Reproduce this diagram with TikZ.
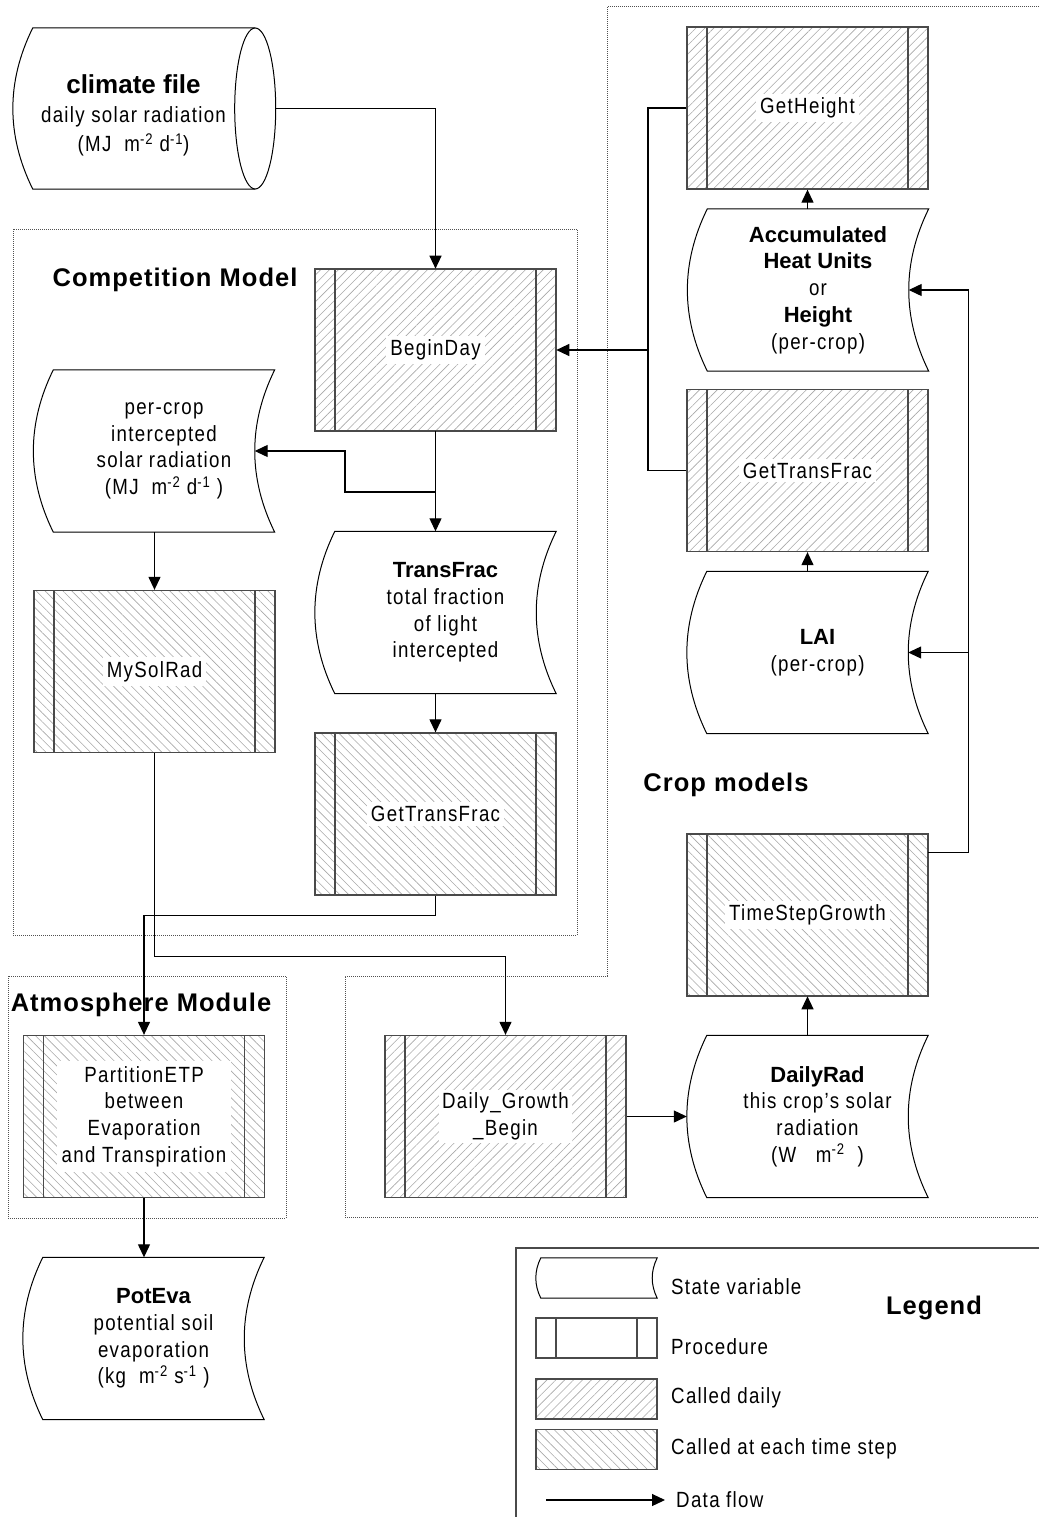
\documentclass[tikz,border=0pt]{standalone}
\usepackage{fontspec}
\setmainfont{Liberation Sans}[FakeStretch=0.85,LetterSpace=6]
\newfontfamily\boldfam{Liberation Sans}
\newfontfamily\headfam{Liberation Sans}[LetterSpace=4]
\newcommand{\bt}[1]{{\boldfam\bfseries #1}}
\usetikzlibrary{patterns.meta,calc,arrows.meta}
\definecolor{boxc}{HTML}{4A4A4A}
\definecolor{hatchc}{HTML}{A8A8A8}
\definecolor{dotc}{HTML}{505050}
\newcommand{\stateoutline}[2]{%
 \draw[stateline] (#1.north west) -- (#1.north east)
  .. controls ($(#1.north east)!0.333!(#1.south east)+(-1.33*#2,0)$) and ($(#1.north east)!0.667!(#1.south east)+(-1.33*#2,0)$) .. (#1.south east)
  -- (#1.south west)
  .. controls ($(#1.north west)!0.667!(#1.south west)+(-1.33*#2,0)$) and ($(#1.north west)!0.333!(#1.south west)+(-1.33*#2,0)$) .. (#1.north west) -- cycle;}
\begin{document}
\begin{tikzpicture}[x=1pt,y=-1pt,
 every node/.style={font=\fontsize{22}{26.7}\selectfont, align=center, inner sep=0pt},
 proc/.style={rectangle, draw=boxc, line width=1.3pt, minimum width=241pt, minimum height=162pt,
   path picture={\draw[boxc,line width=1.3pt]
     ([xshift=20pt]path picture bounding box.north west) -- ([xshift=20pt]path picture bounding box.south west)
     ([xshift=-20pt]path picture bounding box.north east) -- ([xshift=-20pt]path picture bounding box.south east);}},
 daily/.style={pattern={Lines[angle=45,distance=6.3pt,line width=0.6pt]}, pattern color=hatchc},
 each/.style={pattern={Lines[angle=-45,distance=6.3pt,line width=0.6pt]}, pattern color=hatchc},
 ptxt/.style={fill=white, inner sep=4pt},
 statenode/.style={rectangle, minimum width=221pt, minimum height=162pt},
 stateline/.style={draw=black, line width=1pt},
 conn/.style={draw=black, line width=1.2pt},
 arr/.style={conn, -{Triangle[length=13pt,width=12pt]}},
 grp/.style={draw=dotc, line width=1pt, dash pattern=on 1pt off 1pt},
 head/.style={font=\fontsize{25.5}{30}\headfam\bfseries}
]
\useasboundingbox (0,0) rectangle (1039,1517);

% groups
\draw[grp] (13,229) rectangle (577,935);
\draw[grp] (8,976) rectangle (286,1218);
\draw[grp] (1039,7) -- (607,7) -- (607,976) -- (345,976) -- (345,1217) -- (1039,1217);

% procedures
\node[proc,daily,label={[ptxt]center:BeginDay}] (BeginDay) at (435.5,350) {};
\node[proc,daily,label={[ptxt]center:GetHeight}] (GetHeight) at (807.5,108) {};
\node[proc,daily,label={[ptxt]center:GetTransFrac}] (GetTFR) at (807.5,470.5) {};
\node[proc,each,label={[ptxt]center:TimeStepGrowth}] (TSG) at (807.5,915) {};
\node[proc,each,label={[ptxt]center:MySolRad}] (MySolRad) at (154.5,671.5) {};
\node[proc,each,label={[ptxt]center:GetTransFrac}] (GetTFL) at (435.5,814) {};
\node[proc,daily,label={[ptxt,inner sep=3pt]center:Daily\_Growth\\\_Begin}] (DGB) at (505.5,1116.5) {};
\node[proc,each,label={[ptxt,inner sep=5pt]center:PartitionETP\\between\\Evaporation\\and Transpiration}] (PETP) at (144,1116.5) {};

% state variables
\node[statenode,minimum width=201pt,minimum height=161pt,
  label={[yshift=-7pt]center:{\fontsize{26}{32}\boldfam\bfseries climate file}\\[2pt]daily solar radiation\\[3pt](MJ~ m\textsuperscript{-2} d\textsuperscript{-1})}] (climate) at (133.5,108.5) {};
\draw[stateline] ($(climate.north east)+(21,0)$) -- (climate.north west)
  .. controls ($(climate.north west)!0.333!(climate.south west)+(-26.6,0)$) and ($(climate.north west)!0.667!(climate.south west)+(-26.6,0)$) .. (climate.south west)
  -- ($(climate.south east)+(21,0)$);
\coordinate (cfE) at ($(climate.east)+(21,0)$);
\draw[stateline] (cfE) ellipse [x radius=20.5, y radius=80.5];
\node[statenode] (percrop) at (164,451) {per-crop\\intercepted\\solar radiation\\(MJ~ m\textsuperscript{-2} d\textsuperscript{-1}~)};
\stateoutline{percrop}{20}
\node[statenode] (TransFrac) at (445.5,612.5) {\bt{TransFrac}\\total fraction\\of light\\intercepted};
\stateoutline{TransFrac}{20}
\node[statenode] (Accum) at (818,290) {\bt{Accumulated}\\\bt{Heat Units}\\or\\\bt{Height}\\(per-crop)};
\stateoutline{Accum}{20}
\node[statenode] (LAI) at (817.5,652.5) {\bt{LAI}\\(per-crop)};
\stateoutline{LAI}{20}
\node[statenode] (DailyRad) at (817.5,1116.5) {\bt{DailyRad}\\this crop's solar\\radiation\\(W~~ m\textsuperscript{-2}~~)};
\stateoutline{DailyRad}{20}
\node[statenode] (PotEva) at (153.5,1338.5) {\bt{PotEva}\\potential soil\\evaporation\\(kg~ m\textsuperscript{-2} s\textsuperscript{-1}~)};
\stateoutline{PotEva}{20}

% headings
\node[head] (hComp) at (175,280) {Competition Model};
\node[head] (hCrop) at (726,785) {Crop models};
\node[head] (hAtm) at (141,1005) {Atmosphere Module};

% connectors
\coordinate (cfTip) at ($(cfE)+(20.5,0)$);
\coordinate (percropIn) at ($(percrop.east)+(-20,0)$);
\coordinate (AccumIn) at ($(Accum.east)+(-20,0)$);
\coordinate (LAIIn) at ($(LAI.east)+(-20,0)$);
\coordinate (DailyRadIn) at ($(DailyRad.west)+(-20,0)$);
\coordinate (bus) at (648,350);
\coordinate (br1) at (435.5,492);
\coordinate (tsgOut) at ($(TSG.north east)+(0,19)$);
\coordinate (rbus) at ($(tsgOut)+(40,0)$);

\draw[arr] (cfTip) -| (BeginDay.north);
\draw[conn] (GetHeight.west) -| (bus) |- (GetTFR.west);
\draw[arr] (bus) -- (BeginDay.east);
\draw[arr] (BeginDay.south) -- (BeginDay.south |- TransFrac.north);
\draw[arr] (br1) -- ++(-90.5,0) |- (percropIn);
\draw[arr] (MySolRad.north |- percrop.south) -- (MySolRad.north);
\draw[arr] (GetTFL.north |- TransFrac.south) -- (GetTFL.north);
\draw[arr] (GetTFL.south) -- ++(0,20) -| (PETP.north);
\draw[arr] (MySolRad.south) -- ++(0,203) -| (DGB.north);
\draw[arr] (PETP.south) -- (PETP.south |- PotEva.north);
\draw[arr] (DGB.east) -- (DailyRadIn);
\draw[arr] (TSG.south |- DailyRad.north) -- (TSG.south);
\draw[arr] (tsgOut) -- (rbus) |- (AccumIn);
\draw[arr] (rbus |- LAIIn) -- (LAIIn);
\draw[arr] (GetTFR.south |- LAI.north) -- (GetTFR.south);
\draw[arr] (GetHeight.south |- Accum.north) -- (GetHeight.south);

% legend
\draw[draw=boxc, line width=1.2pt] (1039,1248) -- (516,1248) -- (516,1517);
\node[rectangle, minimum width=116pt, minimum height=40pt] (legState) at (599,1278) {};
\stateoutline{legState}{5}
\node[proc, minimum width=121pt, minimum height=40pt] (legProc) at (596.5,1338) {};
\node[rectangle, draw=boxc, line width=1.3pt, minimum width=121pt, minimum height=40pt, daily] (legDaily) at (596.5,1399) {};
\node[rectangle, draw=boxc, line width=1.3pt, minimum width=121pt, minimum height=40pt, each] (legStep) at (596.5,1449.5) {};
\coordinate (legA) at (546,1500);
\coordinate (legB) at (665,1500);
\draw[arr] (legA) -- (legB);
\node[anchor=west] (tState) at (671,1287) {State variable};
\node[anchor=west] (tProc) at (671,1347) {Procedure};
\node[anchor=west] (tDaily) at (671,1398) {Called daily};
\node[anchor=west] (tStep) at (671,1449) {Called at each time step};
\node[anchor=west] (tFlow) at (676,1500) {Data flow};
\node[head] (hLeg) at (934,1308) {Legend};
\end{tikzpicture}
\end{document}
